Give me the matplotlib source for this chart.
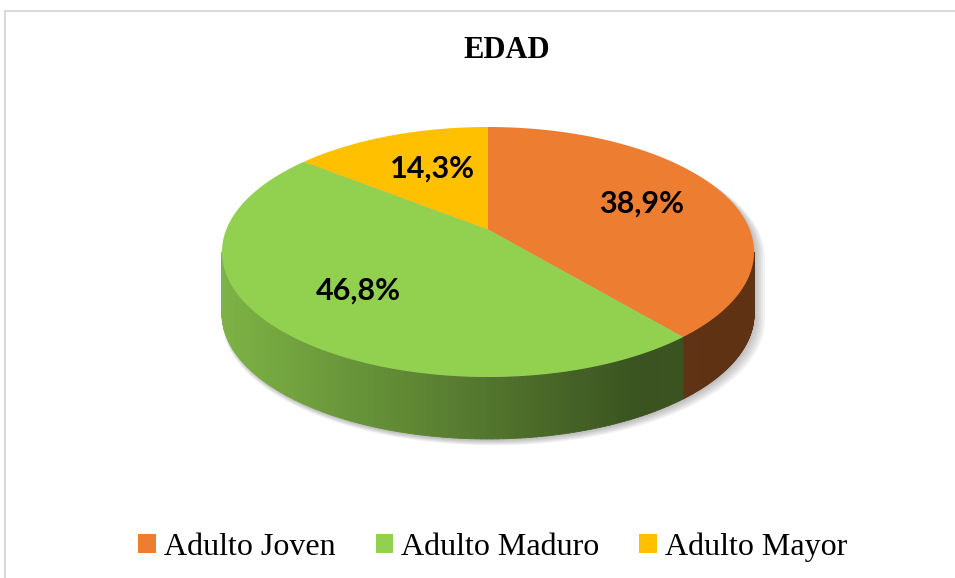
import numpy as np
import matplotlib.pyplot as plt
from matplotlib.collections import PolyCollection
from matplotlib.colors import to_rgb
from matplotlib.lines import Line2D

categories = ['Adulto Joven', 'Adulto Maduro', 'Adulto Mayor']
values = [38.9, 46.8, 14.3]
pct_labels = ['38,9%', '46,8%', '14,3%']
colors = ['#ED7D31', '#92D050', '#FFC000']

# pie geometry (pixels), simple perspective of a tilted disc
RX, RY, K, DEPTH = 261.7, 125.0, 0.18, 62.0
CX, CY = 488, 252          # ellipse centre, px from top-left


def project(theta, r=1.0):
    t = np.radians(theta)
    u = r * np.cos(t)
    v = r * np.sin(t)
    den = 1 + K * v
    return RX * u / den, RY * (v + K) / den


def shade(x):
    return np.interp(x, [-266, 150], [0.86, 0.40])


fig = plt.figure(figsize=(9.55, 5.78), dpi=100)
ax = fig.add_axes([0, 0, 1, 1])
ax.set_xlim(-CX, 955 - CX)
ax.set_ylim(CY - 578, CY)
ax.axis('off')

total = sum(values)
bounds = 90 - 360 * np.cumsum([0] + values) / total
front_lo = -180 + np.degrees(np.arcsin(K))
front_hi = -np.degrees(np.arcsin(K))

# soft shadow under the disc
ta = np.linspace(front_lo, front_hi, 200)
sx, sy = project(ta)
tb = np.linspace(front_hi, front_lo + 360, 200)
bx, by = project(tb)
sil_x = np.r_[sx, bx]
sil_y = np.r_[sy - DEPTH, by]
for i in range(6):
    off = 2 + i
    ax.fill(sil_x * (1 + 0.004 * i) + off * 0.8, sil_y - off * 0.9,
            color='0.35', alpha=0.07, lw=0, zorder=1)

# side wall
for i in range(len(values)):
    hi, lo = bounds[i], bounds[i + 1]
    a, b = max(lo, front_lo), min(hi, front_hi)
    if a >= b:
        continue
    th = np.linspace(a, b, 120)
    x, y = project(th)
    quads, cols = [], []
    base = np.array(to_rgb(colors[i]))
    for j in range(len(th) - 1):
        quads.append([(x[j], y[j]), (x[j + 1], y[j + 1]),
                      (x[j + 1], y[j + 1] - DEPTH), (x[j], y[j] - DEPTH)])
        cols.append(base * shade((x[j] + x[j + 1]) / 2))
    ax.add_collection(PolyCollection(quads, facecolors=cols, edgecolors=cols,
                                     linewidths=0.6, zorder=2))

# top face
handles = []
label_r = [0.65, 0.65, 0.62]
for i in range(len(values)):
    th = np.linspace(bounds[i], bounds[i + 1], 150)
    x, y = project(th)
    c0x, c0y = project(0, 0)
    p = ax.fill(np.r_[c0x, x], np.r_[c0y, y], color=colors[i], lw=0,
                zorder=3, label=categories[i])
    handles.append(p[0])
    mx, my = project((bounds[i] + bounds[i + 1]) / 2, label_r[i])
    ax.text(mx + (8 if i == 2 else 0), my, pct_labels[i], ha='center',
            va='center', fontsize=22, fontweight='bold', family='Lato',
            zorder=4)

ax.text(507 - CX, CY - 50, 'EDAD', ha='center', va='center', fontsize=22,
        fontweight='bold', family='Liberation Serif')

ax.legend(handles=handles, loc='center', bbox_to_anchor=(0.516, 0.054),
          ncol=3, frameon=False,
          prop={'family': 'Liberation Serif', 'size': 23},
          handlelength=0.55, handleheight=0.55, handletextpad=0.25,
          columnspacing=1.25)

fig.add_artist(Line2D([4.5 / 955, 1], [1 - 11 / 578] * 2,
                      transform=fig.transFigure, color='#d9d9d9', lw=1.5))
fig.add_artist(Line2D([4.5 / 955] * 2, [0, 1 - 11 / 578],
                      transform=fig.transFigure, color='#d9d9d9', lw=1.5))

fig.savefig('out.png', dpi=100)
